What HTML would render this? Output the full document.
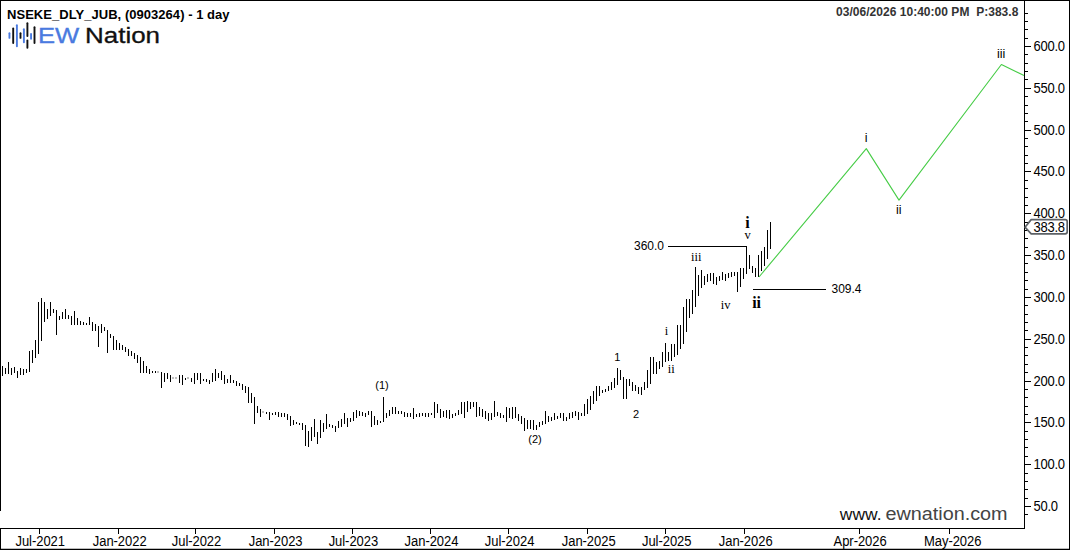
<!DOCTYPE html>
<html><head><meta charset="utf-8"><title>NSEKE_DLY_JUB</title>
<style>
html,body{margin:0;padding:0;background:#fff;}
body{width:1070px;height:550px;position:relative;overflow:hidden;font-family:"Liberation Sans",sans-serif;color:#000;}
#c{position:absolute;left:0;top:0;width:1070px;height:550px;}
svg{position:absolute;left:0;top:0;}
.t{position:absolute;white-space:nowrap;line-height:1;}
.yl{position:absolute;left:1033.6px;width:36px;font-size:13px;letter-spacing:-0.3px;line-height:16px;height:16px;white-space:nowrap;transform:scaleY(1.08);transform-origin:50% 78%;}
.xl{position:absolute;top:534.8px;width:80px;text-align:center;font-size:13px;letter-spacing:-0.05px;line-height:14px;white-space:nowrap;transform:scaleY(1.06);transform-origin:50% 80%;}
.sf{font-family:"Liberation Serif",serif;}
.lab{position:absolute;white-space:nowrap;line-height:1;transform:translate(-50%,-50%);}
</style></head><body><div id="c">
<svg width="1070" height="550" viewBox="0 0 1070 550">
<g shape-rendering="crispEdges" fill="#000">
<rect x="0" y="0" width="1070" height="1"/>
<rect x="0" y="0" width="1" height="511"/>
<rect x="0" y="528" width="1" height="22"/>
<rect x="0" y="528" width="1025" height="1"/>
<rect x="1024" y="0" width="1" height="529"/>
<rect x="1069" y="0" width="1" height="550"/>
<rect x="0" y="549" width="1070" height="1"/><rect x="1" y="548" width="1068" height="1" fill="#bdbdbd"/>
<rect x="1025" y="13" width="3" height="1"/><rect x="1025" y="21" width="3" height="1"/><rect x="1025" y="29" width="3" height="1"/><rect x="1025" y="38" width="3" height="1"/><rect x="1025" y="46" width="6" height="1"/><rect x="1025" y="54" width="3" height="1"/><rect x="1025" y="63" width="3" height="1"/><rect x="1025" y="71" width="3" height="1"/><rect x="1025" y="79" width="3" height="1"/><rect x="1025" y="88" width="6" height="1"/><rect x="1025" y="96" width="3" height="1"/><rect x="1025" y="105" width="3" height="1"/><rect x="1025" y="113" width="3" height="1"/><rect x="1025" y="121" width="3" height="1"/><rect x="1025" y="130" width="6" height="1"/><rect x="1025" y="138" width="3" height="1"/><rect x="1025" y="146" width="3" height="1"/><rect x="1025" y="155" width="3" height="1"/><rect x="1025" y="163" width="3" height="1"/><rect x="1025" y="171" width="6" height="1"/><rect x="1025" y="180" width="3" height="1"/><rect x="1025" y="188" width="3" height="1"/><rect x="1025" y="197" width="3" height="1"/><rect x="1025" y="205" width="3" height="1"/><rect x="1025" y="213" width="6" height="1"/><rect x="1025" y="222" width="3" height="1"/><rect x="1025" y="230" width="3" height="1"/><rect x="1025" y="238" width="3" height="1"/><rect x="1025" y="247" width="3" height="1"/><rect x="1025" y="255" width="6" height="1"/><rect x="1025" y="263" width="3" height="1"/><rect x="1025" y="272" width="3" height="1"/><rect x="1025" y="280" width="3" height="1"/><rect x="1025" y="289" width="3" height="1"/><rect x="1025" y="297" width="6" height="1"/><rect x="1025" y="305" width="3" height="1"/><rect x="1025" y="314" width="3" height="1"/><rect x="1025" y="322" width="3" height="1"/><rect x="1025" y="330" width="3" height="1"/><rect x="1025" y="339" width="6" height="1"/><rect x="1025" y="347" width="3" height="1"/><rect x="1025" y="355" width="3" height="1"/><rect x="1025" y="364" width="3" height="1"/><rect x="1025" y="372" width="3" height="1"/><rect x="1025" y="381" width="6" height="1"/><rect x="1025" y="389" width="3" height="1"/><rect x="1025" y="397" width="3" height="1"/><rect x="1025" y="406" width="3" height="1"/><rect x="1025" y="414" width="3" height="1"/><rect x="1025" y="422" width="6" height="1"/><rect x="1025" y="431" width="3" height="1"/><rect x="1025" y="439" width="3" height="1"/><rect x="1025" y="447" width="3" height="1"/><rect x="1025" y="456" width="3" height="1"/><rect x="1025" y="464" width="6" height="1"/><rect x="1025" y="473" width="3" height="1"/><rect x="1025" y="481" width="3" height="1"/><rect x="1025" y="489" width="3" height="1"/><rect x="1025" y="498" width="3" height="1"/><rect x="1025" y="506" width="6" height="1"/><rect x="1025" y="514" width="3" height="1"/>
<rect x="39" y="529" width="1" height="5"/><rect x="118" y="529" width="1" height="5"/><rect x="195" y="529" width="1" height="5"/><rect x="274" y="529" width="1" height="5"/><rect x="352" y="529" width="1" height="5"/><rect x="430" y="529" width="1" height="5"/><rect x="508" y="529" width="1" height="5"/><rect x="587" y="529" width="1" height="5"/><rect x="665" y="529" width="1" height="5"/><rect x="744" y="529" width="1" height="5"/><rect x="859" y="529" width="1" height="5"/><rect x="949" y="529" width="1" height="5"/>
</g>
<g shape-rendering="crispEdges" fill="#000"><rect x="2" y="366" width="1" height="10"/><rect x="5" y="368" width="1" height="6"/><rect x="8" y="362" width="1" height="12"/><rect x="11" y="368" width="1" height="7"/><rect x="14" y="367" width="1" height="6"/><rect x="17" y="371" width="1" height="7"/><rect x="20" y="368" width="1" height="7"/><rect x="23" y="369" width="1" height="6"/><rect x="26" y="369" width="1" height="4"/><rect x="29" y="351" width="1" height="21"/><rect x="32" y="350" width="1" height="13"/><rect x="35" y="340" width="1" height="18"/><rect x="38" y="302" width="1" height="52"/><rect x="41" y="298" width="1" height="43"/><rect x="44" y="302" width="1" height="20"/><rect x="47" y="309" width="1" height="10"/><rect x="50" y="302" width="1" height="14"/><rect x="53" y="309" width="1" height="4"/><rect x="56" y="310" width="1" height="25"/><rect x="59" y="316" width="1" height="4"/><rect x="62" y="312" width="1" height="7"/><rect x="65" y="309" width="1" height="10"/><rect x="68" y="315" width="1" height="4"/><rect x="71" y="316" width="1" height="9"/><rect x="74" y="311" width="1" height="14"/><rect x="77" y="318" width="1" height="7"/><rect x="80" y="321" width="1" height="4"/><rect x="83" y="322" width="1" height="3"/><rect x="86" y="323" width="1" height="2"/><rect x="89" y="317" width="1" height="8"/><rect x="92" y="322" width="1" height="9"/><rect x="95" y="324" width="1" height="7"/><rect x="98" y="326" width="1" height="21"/><rect x="101" y="324" width="1" height="9"/><rect x="104" y="327" width="1" height="4"/><rect x="107" y="330" width="1" height="23"/><rect x="110" y="334" width="1" height="4"/><rect x="113" y="336" width="1" height="14"/><rect x="116" y="340" width="1" height="10"/><rect x="119" y="343" width="1" height="7"/><rect x="122" y="345" width="1" height="5"/><rect x="125" y="347" width="1" height="5"/><rect x="128" y="349" width="1" height="7"/><rect x="131" y="351" width="1" height="5"/><rect x="134" y="353" width="1" height="6"/><rect x="137" y="355" width="1" height="8"/><rect x="140" y="357" width="1" height="16"/><rect x="143" y="361" width="1" height="12"/><rect x="146" y="366" width="1" height="7"/><rect x="149" y="369" width="1" height="5"/><rect x="152" y="371" width="1" height="2"/><rect x="155" y="371" width="1" height="2"/><rect x="161" y="372" width="1" height="16"/><rect x="164" y="373" width="1" height="9"/><rect x="167" y="373" width="1" height="6"/><rect x="170" y="375" width="1" height="7"/><rect x="179" y="375" width="1" height="8"/><rect x="182" y="375" width="1" height="10"/><rect x="185" y="378" width="1" height="2"/><rect x="191" y="378" width="1" height="4"/><rect x="194" y="373" width="1" height="11"/><rect x="197" y="373" width="1" height="7"/><rect x="200" y="373" width="1" height="11"/><rect x="203" y="379" width="1" height="2"/><rect x="206" y="379" width="1" height="3"/><rect x="209" y="380" width="1" height="4"/><rect x="212" y="373" width="1" height="9"/><rect x="215" y="369" width="1" height="12"/><rect x="218" y="373" width="1" height="5"/><rect x="221" y="371" width="1" height="9"/><rect x="224" y="375" width="1" height="9"/><rect x="227" y="379" width="1" height="4"/><rect x="230" y="375" width="1" height="8"/><rect x="233" y="380" width="1" height="3"/><rect x="236" y="381" width="1" height="5"/><rect x="239" y="383" width="1" height="3"/><rect x="242" y="384" width="1" height="6"/><rect x="245" y="386" width="1" height="7"/><rect x="248" y="387" width="1" height="16"/><rect x="251" y="393" width="1" height="10"/><rect x="254" y="397" width="1" height="27"/><rect x="257" y="406" width="1" height="7"/><rect x="260" y="409" width="1" height="8"/><rect x="266" y="412" width="1" height="2"/><rect x="269" y="412" width="1" height="8"/><rect x="272" y="413" width="1" height="2"/><rect x="275" y="412" width="1" height="3"/><rect x="278" y="412" width="1" height="5"/><rect x="281" y="413" width="1" height="4"/><rect x="284" y="413" width="1" height="4"/><rect x="287" y="414" width="1" height="6"/><rect x="290" y="416" width="1" height="10"/><rect x="293" y="420" width="1" height="5"/><rect x="296" y="422" width="1" height="2"/><rect x="299" y="423" width="1" height="2"/><rect x="302" y="423" width="1" height="7"/><rect x="305" y="425" width="1" height="21"/><rect x="308" y="431" width="1" height="16"/><rect x="311" y="427" width="1" height="14"/><rect x="314" y="419" width="1" height="18"/><rect x="317" y="432" width="1" height="12"/><rect x="320" y="420" width="1" height="18"/><rect x="323" y="423" width="1" height="9"/><rect x="326" y="414" width="1" height="15"/><rect x="329" y="424" width="1" height="3"/><rect x="332" y="425" width="1" height="3"/><rect x="335" y="426" width="1" height="6"/><rect x="338" y="421" width="1" height="7"/><rect x="341" y="419" width="1" height="8"/><rect x="344" y="413" width="1" height="11"/><rect x="347" y="418" width="1" height="9"/><rect x="350" y="418" width="1" height="4"/><rect x="353" y="412" width="1" height="9"/><rect x="356" y="410" width="1" height="8"/><rect x="359" y="411" width="1" height="5"/><rect x="362" y="412" width="1" height="4"/><rect x="365" y="413" width="1" height="4"/><rect x="368" y="411" width="1" height="4"/><rect x="371" y="411" width="1" height="16"/><rect x="374" y="416" width="1" height="9"/><rect x="377" y="420" width="1" height="5"/><rect x="380" y="421" width="1" height="2"/><rect x="383" y="397" width="1" height="25"/><rect x="386" y="413" width="1" height="5"/><rect x="389" y="410" width="1" height="6"/><rect x="392" y="407" width="1" height="7"/><rect x="395" y="407" width="1" height="7"/><rect x="398" y="411" width="1" height="3"/><rect x="401" y="411" width="1" height="3"/><rect x="404" y="412" width="1" height="5"/><rect x="407" y="413" width="1" height="4"/><rect x="410" y="413" width="1" height="4"/><rect x="413" y="408" width="1" height="11"/><rect x="416" y="414" width="1" height="3"/><rect x="419" y="413" width="1" height="4"/><rect x="422" y="413" width="1" height="3"/><rect x="425" y="413" width="1" height="4"/><rect x="428" y="413" width="1" height="4"/><rect x="431" y="413" width="1" height="2"/><rect x="434" y="402" width="1" height="16"/><rect x="437" y="404" width="1" height="9"/><rect x="440" y="409" width="1" height="9"/><rect x="443" y="411" width="1" height="6"/><rect x="446" y="410" width="1" height="8"/><rect x="449" y="410" width="1" height="9"/><rect x="452" y="414" width="1" height="4"/><rect x="455" y="413" width="1" height="3"/><rect x="458" y="410" width="1" height="5"/><rect x="461" y="402" width="1" height="12"/><rect x="464" y="402" width="1" height="16"/><rect x="467" y="401" width="1" height="11"/><rect x="470" y="402" width="1" height="7"/><rect x="473" y="402" width="1" height="5"/><rect x="476" y="402" width="1" height="15"/><rect x="479" y="407" width="1" height="9"/><rect x="482" y="409" width="1" height="8"/><rect x="485" y="411" width="1" height="8"/><rect x="488" y="413" width="1" height="8"/><rect x="491" y="413" width="1" height="7"/><rect x="494" y="401" width="1" height="16"/><rect x="497" y="412" width="1" height="4"/><rect x="500" y="413" width="1" height="5"/><rect x="503" y="415" width="1" height="3"/><rect x="506" y="407" width="1" height="15"/><rect x="509" y="408" width="1" height="10"/><rect x="512" y="407" width="1" height="12"/><rect x="515" y="407" width="1" height="11"/><rect x="518" y="414" width="1" height="7"/><rect x="521" y="416" width="1" height="8"/><rect x="524" y="418" width="1" height="13"/><rect x="527" y="420" width="1" height="9"/><rect x="530" y="420" width="1" height="9"/><rect x="533" y="420" width="1" height="10"/><rect x="536" y="425" width="1" height="5"/><rect x="539" y="422" width="1" height="5"/><rect x="542" y="421" width="1" height="4"/><rect x="545" y="411" width="1" height="13"/><rect x="548" y="416" width="1" height="6"/><rect x="551" y="417" width="1" height="4"/><rect x="554" y="413" width="1" height="7"/><rect x="557" y="416" width="1" height="3"/><rect x="560" y="413" width="1" height="5"/><rect x="563" y="413" width="1" height="8"/><rect x="566" y="417" width="1" height="4"/><rect x="569" y="413" width="1" height="6"/><rect x="572" y="412" width="1" height="6"/><rect x="575" y="411" width="1" height="5"/><rect x="578" y="412" width="1" height="8"/><rect x="581" y="413" width="1" height="3"/><rect x="584" y="404" width="1" height="12"/><rect x="587" y="399" width="1" height="15"/><rect x="590" y="396" width="1" height="14"/><rect x="593" y="391" width="1" height="13"/><rect x="596" y="386" width="1" height="15"/><rect x="599" y="386" width="1" height="10"/><rect x="602" y="390" width="1" height="3"/><rect x="605" y="389" width="1" height="3"/><rect x="608" y="386" width="1" height="5"/><rect x="611" y="382" width="1" height="8"/><rect x="614" y="378" width="1" height="10"/><rect x="617" y="368" width="1" height="17"/><rect x="620" y="370" width="1" height="10"/><rect x="623" y="377" width="1" height="22"/><rect x="626" y="379" width="1" height="20"/><rect x="629" y="379" width="1" height="7"/><rect x="632" y="382" width="1" height="9"/><rect x="635" y="385" width="1" height="6"/><rect x="638" y="387" width="1" height="7"/><rect x="641" y="387" width="1" height="8"/><rect x="644" y="382" width="1" height="8"/><rect x="647" y="370" width="1" height="18"/><rect x="650" y="357" width="1" height="27"/><rect x="653" y="357" width="1" height="17"/><rect x="656" y="362" width="1" height="12"/><rect x="659" y="361" width="1" height="8"/><rect x="662" y="352" width="1" height="15"/><rect x="665" y="343" width="1" height="19"/><rect x="668" y="352" width="1" height="9"/><rect x="671" y="344" width="1" height="17"/><rect x="674" y="344" width="1" height="13"/><rect x="677" y="325" width="1" height="30"/><rect x="680" y="325" width="1" height="24"/><rect x="683" y="307" width="1" height="37"/><rect x="686" y="299" width="1" height="33"/><rect x="689" y="299" width="1" height="19"/><rect x="692" y="290" width="1" height="24"/><rect x="695" y="267" width="1" height="40"/><rect x="698" y="275" width="1" height="21"/><rect x="701" y="270" width="1" height="18"/><rect x="704" y="276" width="1" height="9"/><rect x="707" y="274" width="1" height="8"/><rect x="710" y="273" width="1" height="8"/><rect x="713" y="273" width="1" height="11"/><rect x="716" y="277" width="1" height="8"/><rect x="719" y="276" width="1" height="5"/><rect x="722" y="272" width="1" height="8"/><rect x="725" y="274" width="1" height="7"/><rect x="728" y="273" width="1" height="5"/><rect x="731" y="272" width="1" height="5"/><rect x="734" y="272" width="1" height="4"/><rect x="737" y="272" width="1" height="20"/><rect x="740" y="268" width="1" height="19"/><rect x="743" y="268" width="1" height="11"/><rect x="746" y="247" width="1" height="27"/><rect x="749" y="255" width="1" height="14"/><rect x="752" y="266" width="1" height="7"/><rect x="755" y="268" width="1" height="9"/><rect x="758" y="255" width="1" height="22"/><rect x="761" y="251" width="1" height="20"/><rect x="764" y="247" width="1" height="19"/><rect x="767" y="230" width="1" height="29"/><rect x="770" y="222" width="1" height="27"/></g>
<g shape-rendering="crispEdges" fill="#c0c0c0"><rect x="157" y="371" width="2" height="2"/><rect x="172" y="377" width="2" height="2"/><rect x="175" y="377" width="2" height="2"/><rect x="187" y="377" width="2" height="2"/><rect x="262" y="411" width="2" height="2"/></g>
<g shape-rendering="crispEdges" fill="#000">
<rect x="668" y="246" width="79" height="1"/>
<rect x="753" y="289" width="73" height="1"/>
</g>
<polyline points="759,277 866.3,148.6 899,200.1 1001.4,64.5 1024,75.6" fill="none" stroke="#46cc46" stroke-width="1.1" stroke-linejoin="round"/>
<path d="M1025,227.2 L1031.2,219.6 H1065.2 Q1067.2,219.6 1067.2,221.6 V231.8 Q1067.2,233.8 1065.2,233.8 H1031.2 Z" fill="#fff" stroke="#5c6166" stroke-width="1.7" stroke-linejoin="round"/>
<line x1="9.45" y1="33.2" x2="9.45" y2="37.9" stroke="#4a7ae0" stroke-width="1.9" stroke-linecap="round"/><line x1="13.2" y1="28.4" x2="13.2" y2="43.0" stroke="#111" stroke-width="1.9" stroke-linecap="round"/><line x1="16.9" y1="25.2" x2="16.9" y2="46.3" stroke="#4a7ae0" stroke-width="1.9" stroke-linecap="round"/><line x1="20.5" y1="33.2" x2="20.5" y2="37.9" stroke="#111" stroke-width="1.9" stroke-linecap="round"/><line x1="23.9" y1="29.2" x2="23.9" y2="42.3" stroke="#4a7ae0" stroke-width="1.9" stroke-linecap="round"/><line x1="27.4" y1="23.3" x2="27.4" y2="36.099999999999994" stroke="#111" stroke-width="1.9" stroke-linecap="round"/><line x1="27.4" y1="40.400000000000006" x2="27.4" y2="47.8" stroke="#111" stroke-width="1.9" stroke-linecap="round"/><line x1="31.05" y1="33.900000000000006" x2="31.05" y2="38.699999999999996" stroke="#4a7ae0" stroke-width="1.9" stroke-linecap="round"/><line x1="34.5" y1="27.3" x2="34.5" y2="43.0" stroke="#111" stroke-width="1.9" stroke-linecap="round"/>
<text x="38" y="43.2" font-family="Liberation Sans, sans-serif" font-size="21.3" fill="#4a7ae0" stroke="#4a7ae0" stroke-width="0.3" textLength="41.3" lengthAdjust="spacingAndGlyphs">EW</text>
<text x="85" y="43.2" font-family="Liberation Sans, sans-serif" font-size="21.3" fill="#111" stroke="#111" stroke-width="0.3" textLength="75" lengthAdjust="spacingAndGlyphs">Nation</text>
<text x="839.8" y="520" font-family="Liberation Sans, sans-serif" font-size="17" fill="#111" textLength="41.7" lengthAdjust="spacingAndGlyphs">www.</text>
<text x="885.4" y="520" font-family="Liberation Sans, sans-serif" font-size="17.5" fill="#444" textLength="122.2" lengthAdjust="spacingAndGlyphs">ewnation.com</text>
</svg>
<div class="t" style="left:7px;top:8px;font-size:13px;letter-spacing:0.04px;font-weight:bold;">NSEKE_DLY_JUB, (0903264) - 1 day</div>
<div class="t" style="left:836px;top:6px;font-size:12px;letter-spacing:0.03px;font-weight:bold;color:#333;">03/06/2026 10:40:00 PM&nbsp; P:383.8</div>
<div class="yl" style="top:39px">600.0</div><div class="yl" style="top:81px">550.0</div><div class="yl" style="top:123px">500.0</div><div class="yl" style="top:164px">450.0</div><div class="yl" style="top:206px">400.0</div><div class="yl" style="top:248px">350.0</div><div class="yl" style="top:290px">300.0</div><div class="yl" style="top:332px">250.0</div><div class="yl" style="top:374px">200.0</div><div class="yl" style="top:415px">150.0</div><div class="yl" style="top:457px">100.0</div><div class="yl" style="top:499px">50.0</div>
<div class="yl" style="top:220.4px;left:1033.6px">383.8</div>
<div class="xl" style="left:0.2px">Jul-2021</div><div class="xl" style="left:79.7px">Jan-2022</div><div class="xl" style="left:156.5px">Jul-2022</div><div class="xl" style="left:235.6px">Jan-2023</div><div class="xl" style="left:313.4px">Jul-2023</div><div class="xl" style="left:391.5px">Jan-2024</div><div class="xl" style="left:469.6px">Jul-2024</div><div class="xl" style="left:548.7px">Jan-2025</div><div class="xl" style="left:626.7px">Jul-2025</div><div class="xl" style="left:705.7px">Jan-2026</div><div class="xl" style="left:820.1px">Apr-2026</div><div class="xl" style="left:912.7px">May-2026</div>
<div class="t" style="left:634px;top:240px;font-size:12px;">360.0</div>
<div class="t" style="left:831.5px;top:283px;font-size:12px;">309.4</div>
<div class="lab" style="left:382px;top:385px;font-size:11px;">(1)</div>
<div class="lab" style="left:535px;top:438.7px;font-size:11px;">(2)</div>
<div class="lab" style="left:617.2px;top:356.7px;font-size:11px;">1</div>
<div class="lab" style="left:636px;top:413.8px;font-size:11px;">2</div>
<div class="lab" style="left:866.2px;top:138px;font-size:12.5px;">i</div>
<div class="lab" style="left:898.8px;top:210.2px;font-size:12.5px;">ii</div>
<div class="lab" style="left:1001.2px;top:54px;font-size:12.5px;">iii</div>
<div class="lab sf" style="left:666.5px;top:330.6px;font-size:12.5px;">i</div>
<div class="lab sf" style="left:671.3px;top:368.6px;font-size:12.5px;">ii</div>
<div class="lab sf" style="left:696.3px;top:256.5px;font-size:12.5px;">iii</div>
<div class="lab sf" style="left:725.7px;top:304.7px;font-size:12.5px;">iv</div>
<div class="lab sf" style="left:747.5px;top:235.3px;font-size:12.5px;">v</div>
<div class="lab sf" style="left:747.4px;top:222.6px;font-size:16px;font-weight:bold;">i</div>
<div class="lab sf" style="left:756.6px;top:302.8px;font-size:16px;font-weight:bold;">ii</div>
</div></body></html>
